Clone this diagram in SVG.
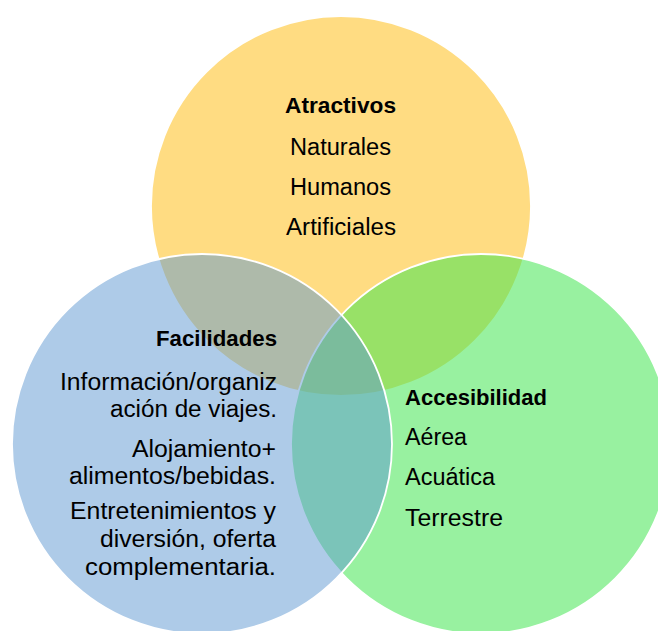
<svg xmlns="http://www.w3.org/2000/svg" width="658" height="631" viewBox="0 0 658 631">
<style>
.c{stroke:#ffffff;stroke-width:1.8}
.t{font-family:"Liberation Sans",Arial,sans-serif;font-size:23px;fill:#000000}
.b{font-weight:bold;font-size:22px}
</style>
<rect width="658" height="631" fill="#ffffff"/>
<g id="atractivos">
<circle class="c" cx="341" cy="206" r="190" fill="#FFDC82"/>
</g>
<g id="accesibilidad">
<circle class="c" cx="481" cy="444" r="190" fill="#44E552" fill-opacity="0.55"/>
</g>
<g id="facilidades">
<circle class="c" cx="202" cy="444" r="190" fill="#5E98D1" fill-opacity="0.5"/>
</g>
<g id="labels-atractivos">
<text class="t b" x="285" y="113" textLength="111" lengthAdjust="spacingAndGlyphs">Atractivos</text>
<text class="t" x="290" y="155" textLength="101" lengthAdjust="spacingAndGlyphs">Naturales</text>
<text class="t" x="290" y="195" textLength="101" lengthAdjust="spacingAndGlyphs">Humanos</text>
<text class="t" x="286" y="235" textLength="110" lengthAdjust="spacingAndGlyphs">Artificiales</text>
</g>
<g id="labels-facilidades">
<text class="t b" x="156" y="346" textLength="121" lengthAdjust="spacingAndGlyphs">Facilidades</text>
<text class="t" x="60" y="390" textLength="217" lengthAdjust="spacingAndGlyphs">Información/organiz</text>
<text class="t" x="110" y="417" textLength="167" lengthAdjust="spacingAndGlyphs">ación de viajes.</text>
<text class="t" x="132" y="457" textLength="144" lengthAdjust="spacingAndGlyphs">Alojamiento+</text>
<text class="t" x="69" y="484" textLength="207" lengthAdjust="spacingAndGlyphs">alimentos/bebidas.</text>
<text class="t" x="70" y="519" textLength="206" lengthAdjust="spacingAndGlyphs">Entretenimientos y</text>
<text class="t" x="100" y="547" textLength="176" lengthAdjust="spacingAndGlyphs">diversión, oferta</text>
<text class="t" x="85" y="575" textLength="191" lengthAdjust="spacingAndGlyphs">complementaria.</text>
</g>
<g id="labels-accesibilidad">
<text class="t b" x="405" y="405" textLength="142" lengthAdjust="spacingAndGlyphs">Accesibilidad</text>
<text class="t" x="405" y="445" textLength="62" lengthAdjust="spacingAndGlyphs">Aérea</text>
<text class="t" x="405" y="485" textLength="90" lengthAdjust="spacingAndGlyphs">Acuática</text>
<text class="t" x="405" y="526" textLength="98" lengthAdjust="spacingAndGlyphs">Terrestre</text>
</g>
<g id="connectors"/>
</svg>
